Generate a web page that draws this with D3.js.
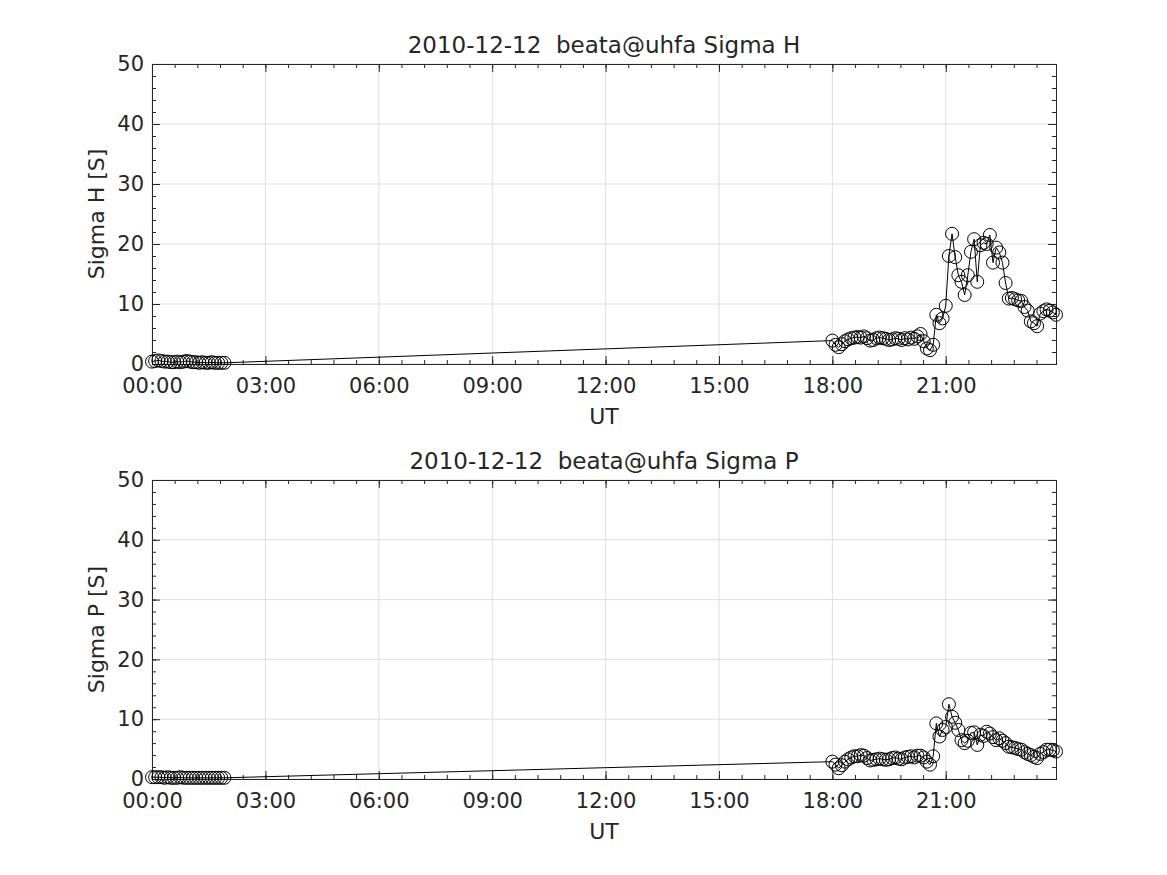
<!DOCTYPE html>
<html>
<head>
<meta charset="utf-8">
<script src="https://cdn.jsdelivr.net/npm/d3@7"></script>
<style>
  body { margin: 0; background: #fff; }
  text { font-family: "DejaVu Sans", sans-serif; fill: #262626; white-space: pre; }
</style>
</head>
<body>
<svg width="1167" height="875"></svg>
<script>
var WIDTH = 1167;
var HEIGHT = 875;
var DAY = '2010-12-12';

// sample times (UT), two blocks of data with a gap between them
var times = [
  '00:00','00:05','00:10','00:15','00:20','00:25','00:30','00:35','00:40','00:45','00:50','00:55',
  '01:00','01:05','01:10','01:15','01:20','01:25','01:30','01:35','01:40','01:45','01:50','01:55',
  '18:00','18:05','18:10','18:15','18:20','18:25','18:30','18:35','18:40','18:45','18:50','18:55',
  '19:00','19:05','19:10','19:15','19:20','19:25','19:30','19:35','19:40','19:45','19:50','19:55',
  '20:00','20:05','20:10','20:15','20:20','20:25','20:30','20:35','20:40','20:45','20:50','20:55',
  '21:00','21:05','21:10','21:15','21:20','21:25','21:30','21:35','21:40','21:45','21:50','21:55',
  '22:00','22:05','22:10','22:15','22:20','22:25','22:30','22:35','22:40','22:45','22:50','22:55',
  '23:00','23:05','23:10','23:15','23:20','23:25','23:30','23:35','23:40','23:45','23:50','23:55'
];

var sigmaH = [
  0.4,0.5,0.6,0.5,0.4,0.4,0.3,0.3,0.4,0.3,0.4,0.5,
  0.4,0.3,0.3,0.2,0.3,0.2,0.2,0.3,0.2,0.2,0.2,0.2,
  3.9,3.2,2.8,3.3,3.8,4.1,4.3,4.4,4.5,4.4,4.6,4.3,
  3.9,4.0,4.3,4.4,4.3,4.2,4.0,4.1,4.3,4.2,4.0,4.3,
  4.1,4.4,4.2,4.6,5.0,3.8,2.6,2.3,3.2,8.2,6.8,7.6,
  9.7,18.0,21.7,17.8,14.8,13.7,11.5,14.8,18.7,20.8,13.7,19.8,
  20.2,20.0,21.5,16.9,19.4,18.6,16.9,13.5,10.9,11.0,10.8,10.6,
  10.5,9.5,8.9,7.1,6.8,6.3,8.4,8.8,9.1,8.9,8.6,8.2
];

var sigmaP = [
  0.3,0.3,0.3,0.3,0.2,0.3,0.2,0.2,0.2,0.3,0.2,0.2,
  0.2,0.2,0.2,0.2,0.2,0.2,0.2,0.2,0.2,0.2,0.2,0.2,
  2.9,2.4,1.8,2.3,2.9,3.3,3.6,3.8,3.8,4.0,3.9,3.5,
  3.1,3.2,3.3,3.4,3.3,3.2,3.3,3.5,3.6,3.4,3.3,3.6,
  3.7,3.8,3.6,3.9,3.9,3.6,2.9,2.4,3.8,9.3,7.1,8.2,
  8.7,12.5,10.4,9.4,8.2,6.5,6.0,6.4,7.7,7.8,5.7,7.4,
  7.2,7.9,7.6,7.0,6.5,6.8,6.4,6.0,5.4,5.3,5.2,5.0,
  4.9,4.5,4.2,4.0,3.7,3.5,4.2,4.5,4.9,4.9,4.8,4.6
];

var yTicks = [0, 10, 20, 30, 40, 50];
var xTickLabels = ['00:00','03:00','06:00','09:00','12:00','15:00','18:00','21:00'];

var panels = [
  { title: DAY + '  beata@uhfa Sigma H', ylabel: 'Sigma H [S]', values: sigmaH, top: 64, bottom: 364 },
  { title: DAY + '  beata@uhfa Sigma P', ylabel: 'Sigma P [S]', values: sigmaP, top: 480, bottom: 779 }
];

var LEFT = 152, RIGHT = 1056;
var parseT = function(t) { return new Date(DAY + 'T' + t + ':00Z'); };
var fmt = d3.utcFormat('%H:%M');

var svg = d3.select('svg').attr('width', WIDTH).attr('height', HEIGHT);

var xScale = d3.scaleUtc()
  .domain([parseT(times[0]), parseT(times[times.length - 1])])
  .range([LEFT, RIGHT]);

// minor ticks every 36 min, y minor every 2
var xMinor = d3.range(0, 24 * 60, 36).map(function(m) {
  return new Date(xScale.domain()[0].getTime() + m * 60000);
}).filter(function(d) { return d <= xScale.domain()[1]; });
var yMinor = d3.range(0, 51, 2);

panels.forEach(function(p) {
  var yScale = d3.scaleLinear().domain([0, 50]).range([p.bottom, p.top]);
  var g = svg.append('g');
  var majorX = xTickLabels.map(parseT);

  // grid
  g.selectAll('.gx').data(majorX).enter().append('line')
    .attr('x1', function(d) { return xScale(d); }).attr('x2', function(d) { return xScale(d); })
    .attr('y1', p.top).attr('y2', p.bottom)
    .attr('stroke', '#dfdfdf').attr('stroke-width', 1);
  g.selectAll('.gy').data(yTicks).enter().append('line')
    .attr('x1', LEFT).attr('x2', RIGHT)
    .attr('y1', function(d) { return yScale(d); }).attr('y2', function(d) { return yScale(d); })
    .attr('stroke', '#dfdfdf').attr('stroke-width', 1);

  // inward ticks on all four sides
  var axColor = '#262626';
  g.append('g').attr('transform', 'translate(0,' + p.bottom + ')')
    .call(d3.axisBottom(xScale).tickValues(xMinor).tickSize(-4).tickFormat(''));
  g.append('g').attr('transform', 'translate(0,' + p.bottom + ')')
    .call(d3.axisBottom(xScale).tickValues(majorX).tickSize(-8).tickPadding(14).tickFormat(fmt));
  g.append('g').attr('transform', 'translate(0,' + p.top + ')')
    .call(d3.axisTop(xScale).tickValues(xMinor).tickSize(-4).tickFormat(''));
  g.append('g').attr('transform', 'translate(0,' + p.top + ')')
    .call(d3.axisTop(xScale).tickValues(majorX).tickSize(-8).tickFormat(''));
  g.append('g').attr('transform', 'translate(' + LEFT + ',0)')
    .call(d3.axisLeft(yScale).tickValues(yMinor).tickSize(-4).tickFormat(''));
  g.append('g').attr('transform', 'translate(' + LEFT + ',0)')
    .call(d3.axisLeft(yScale).tickValues(yTicks).tickSize(-8).tickPadding(8).tickFormat(d3.format('d')));
  g.append('g').attr('transform', 'translate(' + RIGHT + ',0)')
    .call(d3.axisRight(yScale).tickValues(yMinor).tickSize(-4).tickFormat(''));
  g.append('g').attr('transform', 'translate(' + RIGHT + ',0)')
    .call(d3.axisRight(yScale).tickValues(yTicks).tickSize(-8).tickFormat(''));

  g.selectAll('.domain').attr('stroke', axColor);
  g.selectAll('.tick line').attr('stroke', axColor);
  g.selectAll('.tick text').style('font-size', '21px').attr('fill', axColor);

  // data line + circle markers
  var pts = times.map(function(t, i) { return { t: parseT(t), v: p.values[i] }; });
  g.append('path').datum(pts)
    .attr('fill', 'none').attr('stroke', '#000').attr('stroke-width', 1)
    .attr('d', d3.line().x(function(d) { return xScale(d.t); }).y(function(d) { return yScale(d.v); }));
  g.selectAll('circle').data(pts).enter().append('circle')
    .attr('cx', function(d) { return xScale(d.t); })
    .attr('cy', function(d) { return yScale(d.v); })
    .attr('r', 6.5)
    .attr('fill', 'none').attr('stroke', '#000').attr('stroke-width', 1);

  // labels
  g.append('text').attr('x', (LEFT + RIGHT) / 2).attr('y', p.top - 11)
    .attr('text-anchor', 'middle').style('font-size', '23px').text(p.title);
  g.append('text').attr('x', (LEFT + RIGHT) / 2).attr('y', p.bottom + 60)
    .attr('text-anchor', 'middle').style('font-size', '22px').text('UT');
  g.append('text')
    .attr('transform', 'translate(104,' + (p.top + p.bottom) / 2 + ') rotate(-90)')
    .attr('text-anchor', 'middle').style('font-size', '22px').text(p.ylabel);
});
</script>
</body>
</html>
